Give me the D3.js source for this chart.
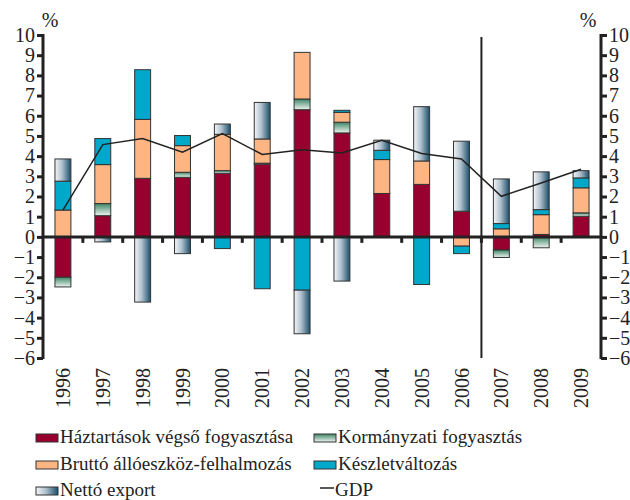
<!DOCTYPE html>
<html>
<head>
<meta charset="utf-8">
<script src="https://cdn.jsdelivr.net/npm/d3@7"></script>
<style>
  body { margin: 0; background: #fff; }
  svg text { font-family: 'Liberation Serif', 'DejaVu Serif', serif; }
</style>
</head>
<body>
<div id="vis-container"></div>
<script>
// data
var years = ["1996", "1997", "1998", "1999", "2000", "2001", "2002", "2003", "2004", "2005", "2006", "2007", "2008", "2009"];
var haztartas   = [-2.0, 1.05, 2.9, 2.95, 3.15, 3.6, 6.3, 5.15, 2.15, 2.6, 1.27, -0.65, 0.12, 1.02];
var kormanyzati = [-0.48, 0.6, 0.0, 0.25, 0.13, 0.05, 0.53, 0.53, 0.0, 0.0, 0.0, -0.37, -0.54, 0.17];
var brutto      = [1.33, 1.93, 2.92, 1.32, 1.8, 1.2, 2.31, 0.49, 1.68, 1.16, -0.46, 0.4, 0.98, 1.24];
var keszlet     = [1.43, 1.29, 2.46, 0.5, -0.58, -2.57, -2.64, 0.1, 0.46, -2.36, -0.37, 0.26, 0.25, 0.49];
var netto       = [1.1, -0.25, -3.23, -0.83, 0.51, 1.81, -2.16, -2.19, 0.5, 2.69, 3.47, 2.21, 1.87, 0.36];
var gdp         = [1.32, 4.57, 4.87, 4.19, 5.12, 4.08, 4.32, 4.16, 4.79, 4.13, 3.86, 2.01, 2.67, 3.35];
var yTicks = d3.range(-6, 11);
var splitYear = "2007";

var seriesKeys = ["haztartas", "kormanyzati", "brutto", "keszlet", "netto"];
var seriesNames = {
	haztartas: "Háztartások végső fogyasztása",
	kormanyzati: "Kormányzati fogyasztás",
	brutto: "Bruttó állóeszköz-felhalmozás",
	keszlet: "Készletváltozás",
	netto: "Nettó export"
};

(function() {
	var width = 630, height = 500;
	var plotLeft = 43, plotRight = 601, plotTop = 35, plotBottom = 358;

	var rows = years.map(function(yr, i) {
		return { year: yr, haztartas: haztartas[i], kormanyzati: kormanyzati[i], brutto: brutto[i], keszlet: keszlet[i], netto: netto[i] };
	});

	var svg = d3.select("#vis-container").append("svg")
		.attr("width", width)
		.attr("height", height);

	// gradients
	var defs = svg.append("defs");
	var gK = defs.append("linearGradient").attr("id", "gradKorm")
		.attr("x1", 0).attr("y1", 0).attr("x2", 0).attr("y2", 1);
	gK.append("stop").attr("offset", "0%").attr("stop-color", "#3d8667");
	gK.append("stop").attr("offset", "100%").attr("stop-color", "#eef4f0");
	var gN = defs.append("linearGradient").attr("id", "gradNetto")
		.attr("x1", 0).attr("y1", 0).attr("x2", 1).attr("y2", 0);
	gN.append("stop").attr("offset", "0%").attr("stop-color", "#f4f6f9");
	gN.append("stop").attr("offset", "45%").attr("stop-color", "#aebfcc");
	gN.append("stop").attr("offset", "100%").attr("stop-color", "#1b4f6a");

	var fills = {
		haztartas: "#97002f",
		kormanyzati: "url(#gradKorm)",
		brutto: "#fdb584",
		keszlet: "#00a8c9",
		netto: "url(#gradNetto)"
	};

	var x = d3.scaleBand().domain(years).range([plotLeft, plotRight]).padding(0);
	var y = d3.scaleLinear().domain([-6, 10]).range([plotBottom, plotTop]);
	var barW = x.bandwidth() * 0.4;

	// stacked bars, positives up and negatives down
	var stack = d3.stack().keys(seriesKeys).offset(d3.stackOffsetDiverging);
	var layers = stack(rows);

	var bars = svg.append("g");
	layers.forEach(function(layer) {
		bars.selectAll(null)
			.data(layer.filter(function(d) { return d[1] - d[0] !== 0; }))
			.enter().append("rect")
			.attr("x", function(d) { return x(d.data.year) + (x.bandwidth() - barW) / 2; })
			.attr("y", function(d) { return y(Math.max(d[0], d[1])); })
			.attr("width", barW)
			.attr("height", function(d) { return Math.abs(y(d[0]) - y(d[1])); })
			.attr("fill", fills[layer.key])
			.attr("stroke", "#333")
			.attr("stroke-width", 1);
	});

	var fmt = function(d) { return d < 0 ? "\u2212" + Math.abs(d) : d; };

	// left and right axes
	var gl = svg.append("g").attr("transform", "translate(" + plotLeft + ",0)")
		.call(d3.axisLeft(y).tickValues(yTicks).tickSize(6).tickPadding(2).tickFormat(fmt));
	var gr = svg.append("g").attr("transform", "translate(" + plotRight + ",0)")
		.call(d3.axisRight(y).tickValues(yTicks).tickSize(6).tickPadding(2).tickFormat(fmt));

	[gl, gr].forEach(function(g) {
		g.attr("font-family", null);
		g.select(".domain").remove();
		g.selectAll(".tick line").attr("stroke", "#222").attr("stroke-width", 3);
		g.selectAll(".tick text").attr("font-size", 20).attr("fill", "#222");
		g.append("line").attr("x1", 0).attr("x2", 0).attr("y1", plotTop - 1).attr("y2", plotBottom + 1)
			.attr("stroke", "#222").attr("stroke-width", 3);
	});

	// zero line with category ticks
	svg.append("line")
		.attr("x1", plotLeft).attr("x2", plotRight)
		.attr("y1", y(0)).attr("y2", y(0))
		.attr("stroke", "#222").attr("stroke-width", 3);
	svg.append("g").selectAll("line")
		.data(years.slice(1))
		.enter().append("line")
		.attr("x1", function(d) { return x(d); })
		.attr("x2", function(d) { return x(d); })
		.attr("y1", y(0)).attr("y2", y(0) + 6)
		.attr("stroke", "#222").attr("stroke-width", 3);

	// separator between 2006 and 2007
	svg.append("line")
		.attr("x1", x(splitYear)).attr("x2", x(splitYear))
		.attr("y1", plotTop + 2).attr("y2", plotBottom)
		.attr("stroke", "#222").attr("stroke-width", 2);

	// GDP line
	var line = d3.line()
		.x(function(d, i) { return x(years[i]) + x.bandwidth() / 2; })
		.y(function(d) { return y(d); });
	svg.append("path")
		.attr("d", line(gdp))
		.attr("fill", "none")
		.attr("stroke", "#222")
		.attr("stroke-width", 1.5);

	// % labels
	svg.append("text").attr("x", 50).attr("y", 27).attr("text-anchor", "middle").attr("font-size", 20).attr("fill", "#222").text("%");
	svg.append("text").attr("x", 588).attr("y", 27).attr("text-anchor", "middle").attr("font-size", 20).attr("fill", "#222").text("%");

	// year labels
	svg.append("g").selectAll("text")
		.data(years)
		.enter().append("text")
		.attr("transform", function(d) { return "translate(" + (x(d) + x.bandwidth() / 2 + 7) + ",408) rotate(-90)"; })
		.attr("font-size", 20)
		.attr("fill", "#222")
		.text(function(d) { return d; });

	// legend
	var legendItems = [
		{ key: "haztartas", x: 36, y: 442 },
		{ key: "kormanyzati", x: 314, y: 442 },
		{ key: "brutto", x: 36, y: 469 },
		{ key: "keszlet", x: 314, y: 469 },
		{ key: "netto", x: 36, y: 495 }
	];
	var legend = svg.append("g");
	legendItems.forEach(function(it) {
		legend.append("rect")
			.attr("x", it.x).attr("y", it.y - 8)
			.attr("width", 22).attr("height", 8)
			.attr("fill", fills[it.key])
			.attr("stroke", "#333").attr("stroke-width", 1);
		legend.append("text")
			.attr("x", it.x + 24).attr("y", it.y + 1)
			.attr("font-size", 19)
			.attr("fill", "#222")
			.text(seriesNames[it.key]);
	});
	legend.append("line")
		.attr("x1", 320).attr("x2", 334).attr("y1", 488).attr("y2", 488)
		.attr("stroke", "#222").attr("stroke-width", 1.5);
	legend.append("text").attr("x", 335).attr("y", 496).attr("font-size", 19).attr("fill", "#222").text("GDP");
})();
</script>
</body>
</html>
